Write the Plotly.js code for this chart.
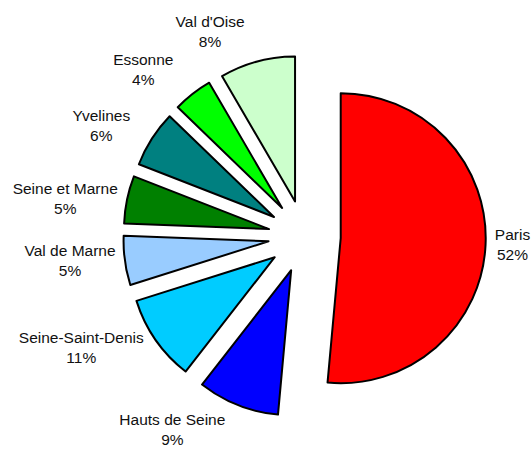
<!DOCTYPE html>
<html>
<head>
<meta charset="utf-8">
<script src="https://cdn.plot.ly/plotly-3.0.1.min.js"></script>
<style>html,body{margin:0;padding:0;background:#fff;}#chart{width:531px;height:450px;}</style>
</head>
<body>
<div id="chart"></div>
<script>
// Departments of Île-de-France
var labels = ["Paris", "Hauts de Seine", "Seine-Saint-Denis", "Val de Marne", "Seine et Marne", "Yvelines", "Essonne", "Val d'Oise"];
// slice sizes as drawn in the picture (share of the circle, %)
var shares = [51.5, 9.1, 9.6, 5.5, 5.3, 6.3, 4.4, 8.4];
// percentage labels as printed on the chart
var pctLabels = ["52%", "9%", "11%", "5%", "5%", "6%", "4%", "8%"];
var colors = ["#FF0000", "#0000FF", "#00CCFF", "#99CCFF", "#008000", "#008080", "#00FF00", "#CCFFCC"];
var pulls = [0.25, 0.25, 0.25, 0.25, 0.25, 0.25, 0.25, 0.25];
// label distance (pull of the invisible label layer)
var labelPulls = [0.25, 0.31, 0.27, 0.25, 0.25, 0.35, 0.36, 0.34];

var W = 531, H = 450, cx = 304.5, cy = 236.5, R = 145;
function domainFor(maxPull) {
  var half = R * (1 + maxPull);
  return {
    x: [(cx - half) / W, (cx + half) / W],
    y: [(H - cy - half) / H, (H - cy + half) / H]
  };
}
var labelMax = Math.max.apply(null, labelPulls);
var transparent = labels.map(function () { return 'rgba(0,0,0,0)'; });

Plotly.newPlot('chart', [{
  type: 'pie',
  labels: labels,
  values: shares,
  sort: false,
  direction: 'clockwise',
  rotation: 0,
  pull: pulls,
  marker: {colors: colors, line: {color: '#000000', width: 2}},
  textinfo: 'none',
  hoverinfo: 'none',
  automargin: false,
  domain: domainFor(Math.max.apply(null, pulls))
}, {
  type: 'pie',
  labels: labels,
  values: shares,
  text: pctLabels,
  sort: false,
  direction: 'clockwise',
  rotation: 0,
  pull: labelPulls,
  marker: {colors: transparent, line: {width: 0}},
  textposition: 'outside',
  texttemplate: '%{label}<br>%{text}',
  textfont: {family: 'Liberation Sans, Arial, sans-serif', size: 15.5, color: '#111111'},
  hoverinfo: 'none',
  automargin: false,
  domain: domainFor(labelMax)
}], {
  width: W, height: H,
  margin: {l: 0, r: 0, t: 0, b: 0},
  showlegend: false,
  paper_bgcolor: '#ffffff'
}, {staticPlot: true});
</script>
</body>
</html>
